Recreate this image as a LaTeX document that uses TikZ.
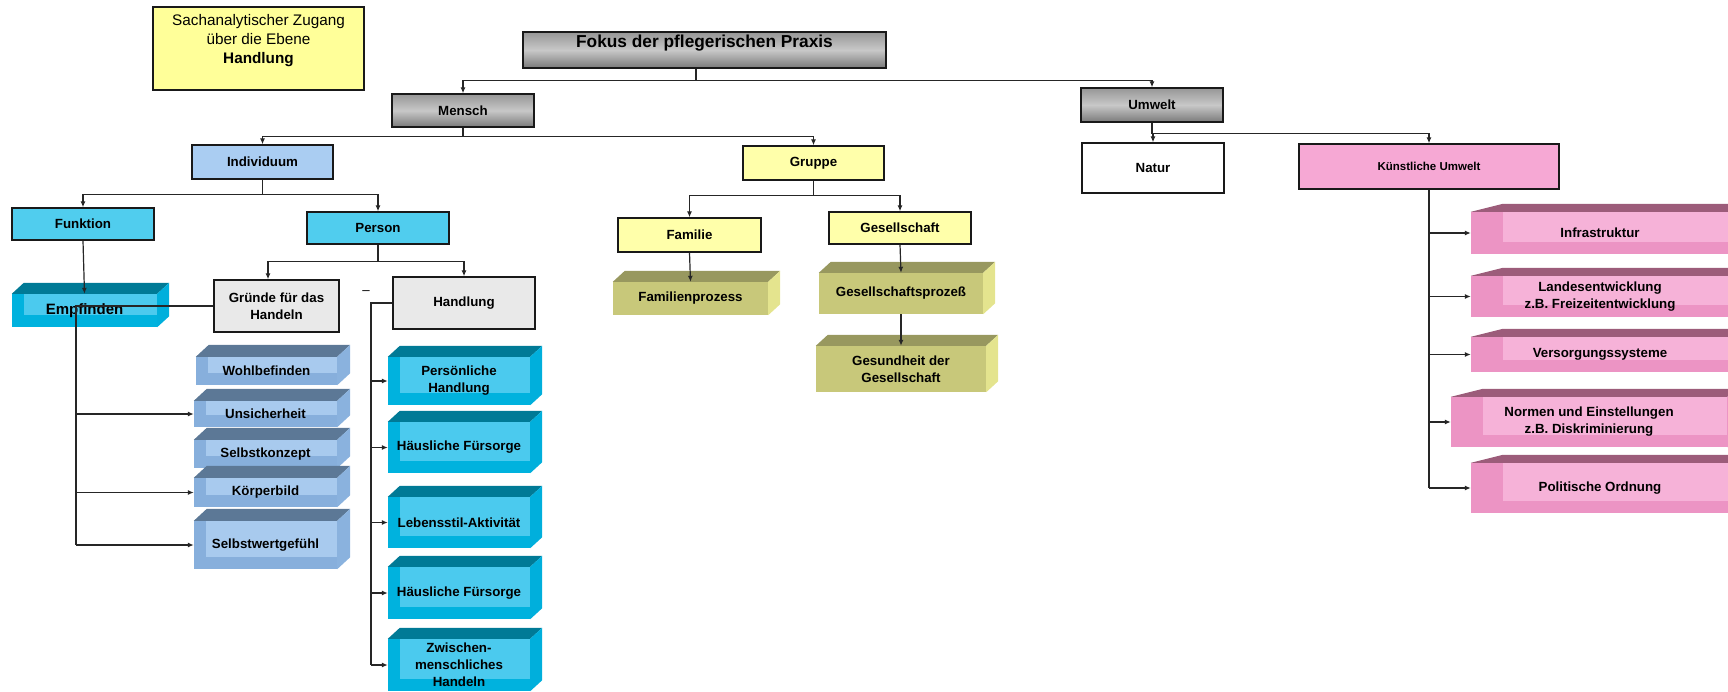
\documentclass[tikz,border=0pt]{standalone}
\usepackage{fontspec}
\setmainfont{Liberation Sans}
\usepackage{tikz}
\usetikzlibrary{arrows.meta}

\definecolor{zugangfarbe}{RGB}{255,255,153}
\definecolor{grauoben}{RGB}{150,150,150}
\definecolor{graumitte}{RGB}{200,200,200}
\definecolor{grauunten}{RGB}{122,122,122}
\definecolor{hellblau}{RGB}{170,205,242}
\definecolor{tuerkis}{RGB}{80,205,238}
\definecolor{gelb}{RGB}{255,255,170}
\definecolor{hellgrau}{RGB}{233,233,233}
\definecolor{rosa}{RGB}{246,168,212}
\definecolor{cyanvorne}{RGB}{0,178,222}
\definecolor{cyanhell}{RGB}{75,202,238}
\definecolor{cyanoben}{RGB}{0,122,150}
\definecolor{cyanseite}{RGB}{0,175,220}
\definecolor{blauvorne}{RGB}{135,175,220}
\definecolor{blauhell}{RGB}{168,202,238}
\definecolor{blauoben}{RGB}{92,120,150}
\definecolor{blauseite}{RGB}{138,178,222}
\definecolor{olivvorne}{RGB}{200,200,122}
\definecolor{olivoben}{RGB}{152,152,95}
\definecolor{olivseite}{RGB}{228,228,142}
\definecolor{rosavorne}{RGB}{236,148,196}
\definecolor{rosahell}{RGB}{246,178,216}
\definecolor{rosaoben}{RGB}{156,92,122}

\newcommand{\kastenschrift}{\fontsize{13.3}{17}\selectfont\bfseries}
\newcommand{\titelschrift}{\fontsize{17.3}{20}\selectfont\bfseries}
\newcommand{\zugangschrift}{\fontsize{15.3}{19}\selectfont}
\newcommand{\empfschrift}{\fontsize{15}{18}\selectfont\bfseries}
\newcommand{\kleinschrift}{\fontsize{11.5}{14}\selectfont\bfseries}

\begin{document}
\begin{tikzpicture}[x=1pt, y=-1pt,
	kasten/.style={draw=black!90, line width=1.3pt, inner sep=2pt, align=center, font=\kastenschrift},
	graukasten/.style={kasten, top color=grauoben, bottom color=grauunten, middle color=graumitte},
	klotz/.style n args={5}{fill=#1, draw=none, inner sep=0pt, align=center, font=\kastenschrift,
		append after command={\pgfextra{
			\fill[#2] (\tikzlastnode.north west) -- ++(#4,#5) -- ([shift={(#4,#5)}]\tikzlastnode.north east) -- (\tikzlastnode.north east) -- cycle;
			\fill[#3] (\tikzlastnode.north east) -- ++(#4,#5) -- ([shift={(#4,#5)}]\tikzlastnode.south east) -- (\tikzlastnode.south east) -- cycle;
		}}},
	innen/.style 2 args={path picture={\fill[#1] ([xshift=#2]path picture bounding box.north west) rectangle ([yshift=12pt]path picture bounding box.south east);}},
	cyanklotz/.style={klotz={cyanvorne}{cyanoben}{cyanseite}{12}{-11}, innen={cyanhell}{12pt}},
	blauklotz/.style={klotz={blauvorne}{blauoben}{blauseite}{13}{-12}, innen={blauhell}{12pt}},
	olivklotz/.style={klotz={olivvorne}{olivoben}{olivseite}{12}{-11}},
	rosaklotz/.style={klotz={rosavorne}{rosaoben}{rosavorne}{32}{-8}, innen={rosahell}{32pt}},
	linie/.style={draw=black!85, line width=1.2pt},
	pfeil/.style={linie, -{Latex[length=6pt,width=5pt]}}]
	
	\useasboundingbox (0,0) rectangle (1728,691);
	\clip (0,0) rectangle (1728,691);
	
	\node[kasten, fill=zugangfarbe, font=\zugangschrift, minimum width=211pt, minimum height=83pt] (zugang) at (258.5,48.5) {Sachanalytischer Zugang\\über die Ebene\\\textbf{Handlung}\\\mbox{}};
	
	\node[graukasten, font=\titelschrift, text depth=17pt, minimum width=363pt, minimum height=36pt] (fokus) at (704.5,50) {Fokus der pflegerischen Praxis};
	\node[graukasten, minimum width=142pt, minimum height=33pt] (mensch) at (463,110.5) {Mensch};
	\node[graukasten, minimum width=142pt, minimum height=34pt] (umwelt) at (1152,105) {Umwelt};
	
	\node[kasten, fill=hellblau, minimum width=141pt, minimum height=34pt] (individuum) at (262.5,162) {Individuum};
	\node[kasten, fill=gelb, minimum width=141pt, minimum height=34pt] (gruppe) at (813.5,163) {Gruppe};
	\node[kasten, fill=white, minimum width=142pt, minimum height=50pt] (natur) at (1153,168) {Natur};
	\node[kasten, fill=rosa, font=\kleinschrift, minimum width=260pt, minimum height=45pt] (kuenstlich) at (1429,166.5) {Künstliche Umwelt};
	
	\node[kasten, fill=tuerkis, minimum width=142pt, minimum height=32pt] (funktion) at (83,224) {Funktion};
	\node[kasten, fill=tuerkis, minimum width=142pt, minimum height=32pt] (person) at (378,228) {Person};
	\node[kasten, fill=gelb, minimum width=143pt, minimum height=34pt] (familie) at (689.5,235) {Familie};
	\node[kasten, fill=gelb, minimum width=142pt, minimum height=32pt] (gesellschaft) at (900,228) {Gesellschaft};
	
	\node[kasten, fill=hellgrau, minimum width=125pt, minimum height=52pt] (gruende) at (276.5,306) {Gründe für das\\Handeln};
	\node[kasten, fill=hellgrau, minimum width=142pt, minimum height=52pt] (handlung) at (464,303) {Handlung};
	\node[font=\kastenschrift\mdseries] (strich) at (366,293) {–};
	
	\node[cyanklotz, font=\empfschrift, minimum width=145pt, minimum height=33pt] (empfinden) at (84.5,310.5) {Empfinden};
	
	\node[blauklotz, minimum width=141pt, minimum height=28pt] (wohl) at (266.5,371) {Wohlbefinden};
	\node[blauklotz, minimum width=143pt, minimum height=26pt] (unsicher) at (265.5,414) {Unsicherheit};
	\node[blauklotz, minimum width=143pt, minimum height=28pt] (konzept) at (265.5,454) {Selbstkonzept};
	\node[blauklotz, minimum width=143pt, minimum height=29pt] (koerper) at (265.5,492.5) {Körperbild};
	\node[blauklotz, minimum width=143pt, minimum height=48pt] (selbstwert) at (265.5,545) {Selbstwertgefühl};
	
	\node[cyanklotz, minimum width=142pt, minimum height=48pt] (persoenlich) at (459,381) {Persönliche\\Handlung};
	\node[cyanklotz, minimum width=142pt, minimum height=51pt] (haeuslich) at (459,447.5) {Häusliche Fürsorge};
	\node[cyanklotz, minimum width=142pt, minimum height=51pt] (lebensstil) at (459,522.5) {Lebensstil-Aktivität};
	\node[cyanklotz, minimum width=142pt, minimum height=52pt] (haeuslichzwei) at (459,593) {Häusliche Fürsorge};
	\node[cyanklotz, minimum width=142pt, minimum height=52pt] (zwischen) at (459,665) {Zwischen-\\menschliches\\Handeln};
	
	\node[olivklotz, minimum width=155pt, minimum height=33pt] (famprozess) at (690.5,298.5) {Familienprozess};
	\node[olivklotz, minimum width=164pt, minimum height=41pt] (gesprozess) at (901,293.5) {Gesellschaftsprozeß};
	\node[olivklotz, minimum width=170pt, minimum height=46pt] (gesundheit) at (901,369) {Gesundheit der\\Gesellschaft};
	
	\node[rosaklotz, minimum width=258pt, minimum height=42pt] (infra) at (1600,233) {Infrastruktur};
	\node[rosaklotz, minimum width=258pt, minimum height=41pt] (landes) at (1600,296.5) {Landesentwicklung\\z.B. Freizeitentwicklung};
	\node[rosaklotz, minimum width=258pt, minimum height=35pt] (versorgung) at (1600,354.5) {Versorgungssysteme};
	\node[rosaklotz, minimum width=276pt, minimum height=50pt] (normen) at (1589,422) {Normen und Einstellungen\\z.B. Diskriminierung};
	\node[rosaklotz, minimum width=258pt, minimum height=50pt] (politik) at (1600,488) {Politische Ordnung};
	
	\draw[pfeil] ([xshift=-8.5pt]fokus.south) -- ++(0,12) -| (mensch.north);
	\draw[pfeil] ([xshift=-8.5pt]fokus.south) -- ++(0,12) -| (umwelt.north);
	\draw[pfeil] (mensch.south) -- ++(0,9) -| (individuum.north);
	\draw[pfeil] (mensch.south) -- ++(0,9) -| (gruppe.north);
	\draw[pfeil] (individuum.south) -- ++(0,15) -| (funktion.north);
	\draw[pfeil] (individuum.south) -- ++(0,15) -| (person.north);
	\draw[pfeil] (funktion.south) -- (empfinden.north);
	\draw[pfeil] (person.south) -- ++(0,17) -| ([xshift=-8.5pt]gruende.north);
	\draw[pfeil] (person.south) -- ++(0,17) -| (handlung.north);
	\draw[pfeil] (gruppe.south) -- ++(0,15) -| (familie.north);
	\draw[pfeil] (gruppe.south) -- ++(0,15) -| (gesellschaft.north);
	\draw[pfeil] (familie.south) -- (famprozess.north);
	\draw[pfeil] (gesellschaft.south) -- (gesprozess.north);
	\draw[pfeil] (gesprozess.south) -- (gesundheit.north);
	\draw[pfeil] (umwelt.south) -- ++(0,11) -| (natur.north);
	\draw[pfeil] (umwelt.south) -- ++(0,11) -| (kuenstlich.north);
	
	\coordinate (gstamm) at (76,306);
	\draw[linie] (gruende.west) -- (gstamm) -- (gstamm |- selbstwert.west);
	\draw[pfeil] (gstamm |- unsicher.west) -- (unsicher.west);
	\draw[pfeil] (gstamm |- koerper.west) -- (koerper.west);
	\draw[pfeil] (gstamm |- selbstwert.west) -- (selbstwert.west);
	
	\coordinate (hstamm) at (371,303);
	\draw[linie] (handlung.west) -- (hstamm) -- (hstamm |- zwischen.west);
	\draw[pfeil] (hstamm |- persoenlich.west) -- (persoenlich.west);
	\draw[pfeil] (hstamm |- haeuslich.west) -- (haeuslich.west);
	\draw[pfeil] (hstamm |- lebensstil.west) -- (lebensstil.west);
	\draw[pfeil] (hstamm |- haeuslichzwei.west) -- (haeuslichzwei.west);
	\draw[pfeil] (hstamm |- zwischen.west) -- (zwischen.west);
	
	\draw[linie] (kuenstlich.south) -- (kuenstlich.south |- politik.west);
	\draw[pfeil] (kuenstlich.south |- infra.west) -- (infra.west);
	\draw[pfeil] (kuenstlich.south |- landes.west) -- (landes.west);
	\draw[pfeil] (kuenstlich.south |- versorgung.west) -- (versorgung.west);
	\draw[pfeil] (kuenstlich.south |- normen.west) -- (normen.west);
	\draw[pfeil] (kuenstlich.south |- politik.west) -- (politik.west);
	
\end{tikzpicture}
\end{document}
